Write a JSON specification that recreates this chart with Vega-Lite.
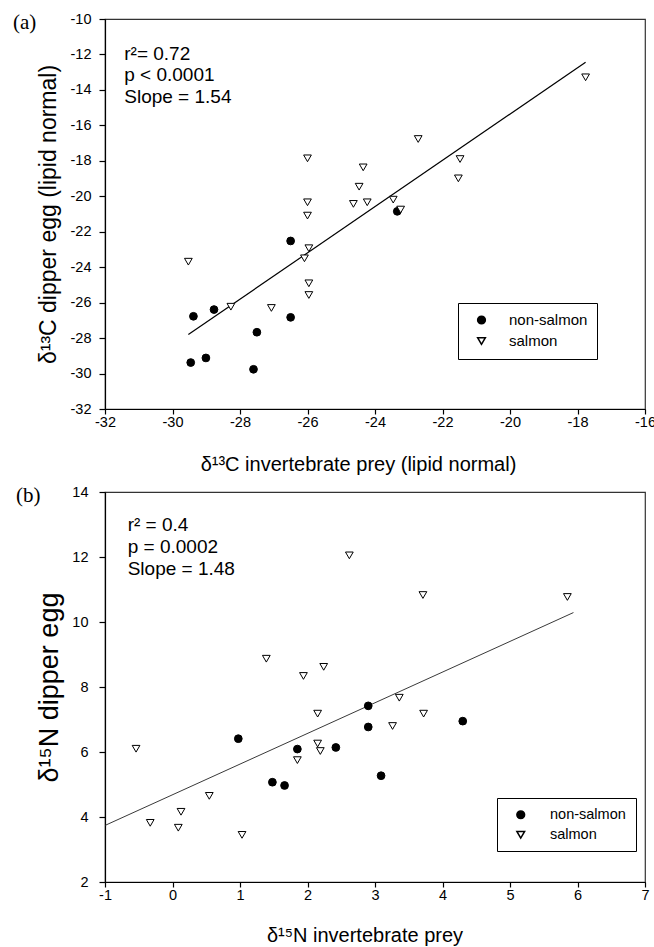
{
  "$schema": "https://vega.github.io/schema/vega-lite/v6.json",
  "background": "white",
  "padding": {"left": 12, "top": 10, "right": 0, "bottom": 0},
  "spacing": 7,
  "datasets": {
    "aPts": [
      {"prey": -29.38, "egg": -26.77, "group": "non-salmon"},
      {"prey": -28.77, "egg": -26.39, "group": "non-salmon"},
      {"prey": -29.46, "egg": -29.38, "group": "non-salmon"},
      {"prey": -29.01, "egg": -29.12, "group": "non-salmon"},
      {"prey": -27.50, "egg": -27.67, "group": "non-salmon"},
      {"prey": -27.60, "egg": -29.76, "group": "non-salmon"},
      {"prey": -26.50, "egg": -22.52, "group": "non-salmon"},
      {"prey": -26.50, "egg": -26.83, "group": "non-salmon"},
      {"prey": -23.34, "egg": -20.85, "group": "non-salmon"},
      {"prey": -29.53, "egg": -23.69, "group": "salmon"},
      {"prey": -28.27, "egg": -26.23, "group": "salmon"},
      {"prey": -27.07, "egg": -26.30, "group": "salmon"},
      {"prey": -26.00, "egg": -20.34, "group": "salmon"},
      {"prey": -26.00, "egg": -21.09, "group": "salmon"},
      {"prey": -25.96, "egg": -22.93, "group": "salmon"},
      {"prey": -26.09, "egg": -23.50, "group": "salmon"},
      {"prey": -25.96, "egg": -24.91, "group": "salmon"},
      {"prey": -25.96, "egg": -25.57, "group": "salmon"},
      {"prey": -24.64, "egg": -20.43, "group": "salmon"},
      {"prey": -26.00, "egg": -17.86, "group": "salmon"},
      {"prey": -24.47, "egg": -19.46, "group": "salmon"},
      {"prey": -24.35, "egg": -18.37, "group": "salmon"},
      {"prey": -24.23, "egg": -20.34, "group": "salmon"},
      {"prey": -23.46, "egg": -20.19, "group": "salmon"},
      {"prey": -23.24, "egg": -20.75, "group": "salmon"},
      {"prey": -22.72, "egg": -16.77, "group": "salmon"},
      {"prey": -21.48, "egg": -17.90, "group": "salmon"},
      {"prey": -21.53, "egg": -18.99, "group": "salmon"},
      {"prey": -17.76, "egg": -13.29, "group": "salmon"}
    ],
    "aLine": [
      {"prey": -29.53, "egg": -27.8},
      {"prey": -17.76, "egg": -12.44}
    ],
    "bPts": [
      {"prey": 0.975, "egg": 6.41, "group": "non-salmon"},
      {"prey": 1.48, "egg": 5.07, "group": "non-salmon"},
      {"prey": 1.66, "egg": 4.97, "group": "non-salmon"},
      {"prey": 1.85, "egg": 6.09, "group": "non-salmon"},
      {"prey": 2.42, "egg": 6.14, "group": "non-salmon"},
      {"prey": 2.90, "egg": 7.42, "group": "non-salmon"},
      {"prey": 2.90, "egg": 6.77, "group": "non-salmon"},
      {"prey": 3.09, "egg": 5.27, "group": "non-salmon"},
      {"prey": 4.30, "egg": 6.95, "group": "non-salmon"},
      {"prey": -0.54, "egg": 6.10, "group": "salmon"},
      {"prey": -0.33, "egg": 3.82, "group": "salmon"},
      {"prey": 0.086, "egg": 3.67, "group": "salmon"},
      {"prey": 0.126, "egg": 4.16, "group": "salmon"},
      {"prey": 0.545, "egg": 4.65, "group": "salmon"},
      {"prey": 1.03, "egg": 3.45, "group": "salmon"},
      {"prey": 1.85, "egg": 5.75, "group": "salmon"},
      {"prey": 2.15, "egg": 7.18, "group": "salmon"},
      {"prey": 2.15, "egg": 6.26, "group": "salmon"},
      {"prey": 2.19, "egg": 6.03, "group": "salmon"},
      {"prey": 1.39, "egg": 8.87, "group": "salmon"},
      {"prey": 1.94, "egg": 8.34, "group": "salmon"},
      {"prey": 2.24, "egg": 8.62, "group": "salmon"},
      {"prey": 2.62, "egg": 12.05, "group": "salmon"},
      {"prey": 3.71, "egg": 10.83, "group": "salmon"},
      {"prey": 5.85, "egg": 10.77, "group": "salmon"},
      {"prey": 3.36, "egg": 7.67, "group": "salmon"},
      {"prey": 3.72, "egg": 7.18, "group": "salmon"},
      {"prey": 3.26, "egg": 6.80, "group": "salmon"}
    ],
    "bLine": [
      {"prey": -1, "egg": 3.74},
      {"prey": 5.94, "egg": 10.29}
    ]
  },
  "vconcat": [
    {
      "title": {"text": "(a)", "orient": "top", "anchor": "start", "frame": "group", "dx": -92, "offset": -39, "baseline": "alphabetic", "font": "Liberation Serif", "fontSize": 21, "fontWeight": "normal", "color": "black"},
      "width": 540,
      "height": 390,
      "encoding": {
        "x": {"type": "quantitative", "scale": {"domain": [-32, -16], "nice": false, "zero": false},
          "axis": {"title": "δ¹³C invertebrate prey (lipid normal)", "values": [-32, -30, -28, -26, -24, -22, -20, -18, -16], "tickSize": 5, "labelPadding": 1, "titlePadding": 26, "titleX": 253}},
        "y": {"type": "quantitative", "scale": {"domain": [-32, -10], "nice": false, "zero": false},
          "axis": {"title": "δ¹³C dipper egg (lipid normal)", "titleFontSize": 23, "values": [-32, -30, -28, -26, -24, -22, -20, -18, -16, -14, -12, -10], "tickSize": 6, "labelPadding": 8, "titlePadding": 10}}
      },
      "layer": [
        {
          "data": {"name": "aLine"},
          "mark": {"type": "line", "color": "black", "strokeWidth": 1.2},
          "encoding": {"x": {"field": "prey", "type": "quantitative"}, "y": {"field": "egg", "type": "quantitative"}}
        },
        {
          "data": {"name": "aPts"},
          "mark": {"type": "point", "filled": true, "size": 60, "stroke": "black", "strokeWidth": 1, "opacity": 1},
          "encoding": {
            "x": {"field": "prey", "type": "quantitative"},
            "y": {"field": "egg", "type": "quantitative"},
            "shape": {"field": "group", "type": "nominal", "scale": {"domain": ["non-salmon", "salmon"], "range": ["circle", "triangle-down"]},
              "legend": {"title": null, "orient": "none", "legendX": 353, "legendY": 284, "strokeColor": "black", "fillColor": "white", "padding": 9.5, "symbolOffset": 6.5, "labelOffset": 20, "rowPadding": 5, "labelFontSize": 15, "labelFont": "Liberation Sans", "labelColor": "black", "symbolSize": 60,
                "encode": {"symbols": {"stroke": {"value": "black"}, "strokeWidth": {"value": 1}}}}},
            "color": {"field": "group", "type": "nominal", "scale": {"domain": ["non-salmon", "salmon"], "range": ["black", "white"]},
              "legend": {"title": null, "orient": "none", "legendX": 353, "legendY": 284, "strokeColor": "black", "fillColor": "white", "padding": 9.5, "symbolOffset": 6.5, "labelOffset": 20, "rowPadding": 5, "labelFontSize": 15, "labelFont": "Liberation Sans", "labelColor": "black", "symbolSize": 60,
                "encode": {"symbols": {"stroke": {"value": "black"}, "strokeWidth": {"value": 1}}}}}
          }
        },
        {
          "data": {"values": [{}]},
          "mark": {"type": "text", "align": "left", "baseline": "alphabetic", "font": "Liberation Sans", "fontSize": 19, "lineHeight": 21.7, "color": "black", "text": ["r²= 0.72", "p < 0.0001", "Slope = 1.54"]},
          "encoding": {"x": {"datum": -31.43}, "y": {"datum": -12.3}}
        }
      ]
    },
    {
      "title": {"text": "(b)", "orient": "top", "anchor": "start", "frame": "group", "dx": -89, "offset": -39, "baseline": "alphabetic", "font": "Liberation Serif", "fontSize": 21, "fontWeight": "normal", "color": "black"},
      "width": 540,
      "height": 390,
      "encoding": {
        "x": {"type": "quantitative", "scale": {"domain": [-1, 7], "nice": false, "zero": false},
          "axis": {"title": "δ¹⁵N invertebrate prey", "values": [-1, 0, 1, 2, 3, 4, 5, 6, 7], "tickSize": 5, "labelPadding": 1, "titlePadding": 24, "titleX": 259.5}},
        "y": {"type": "quantitative", "scale": {"domain": [2, 14], "nice": false, "zero": false},
          "axis": {"title": "δ¹⁵N dipper egg", "titleFontSize": 27, "values": [2, 4, 6, 8, 10, 12, 14], "tickSize": 6, "labelPadding": 11, "titlePadding": 8}}
      },
      "layer": [
        {
          "data": {"name": "bLine"},
          "mark": {"type": "line", "color": "#222", "strokeWidth": 0.9},
          "encoding": {"x": {"field": "prey", "type": "quantitative"}, "y": {"field": "egg", "type": "quantitative"}}
        },
        {
          "data": {"name": "bPts"},
          "mark": {"type": "point", "filled": true, "size": 60, "stroke": "black", "strokeWidth": 1, "opacity": 1},
          "encoding": {
            "x": {"field": "prey", "type": "quantitative"},
            "y": {"field": "egg", "type": "quantitative"},
            "shape": {"field": "group", "type": "nominal", "scale": {"domain": ["non-salmon", "salmon"], "range": ["circle", "triangle-down"]},
              "legend": {"title": null, "orient": "none", "legendX": 392, "legendY": 306, "strokeColor": "black", "fillColor": "white", "padding": 9.5, "symbolOffset": 7, "labelOffset": 22, "rowPadding": 4, "labelFontSize": 14.5, "labelFont": "Liberation Sans", "labelColor": "black", "symbolSize": 60,
                "encode": {"symbols": {"stroke": {"value": "black"}, "strokeWidth": {"value": 1}}}}},
            "color": {"field": "group", "type": "nominal", "scale": {"domain": ["non-salmon", "salmon"], "range": ["black", "white"]},
              "legend": {"title": null, "orient": "none", "legendX": 392, "legendY": 306, "strokeColor": "black", "fillColor": "white", "padding": 9.5, "symbolOffset": 7, "labelOffset": 22, "rowPadding": 4, "labelFontSize": 14.5, "labelFont": "Liberation Sans", "labelColor": "black", "symbolSize": 60,
                "encode": {"symbols": {"stroke": {"value": "black"}, "strokeWidth": {"value": 1}}}}}
          }
        },
        {
          "data": {"values": [{}]},
          "mark": {"type": "text", "align": "left", "baseline": "alphabetic", "font": "Liberation Sans", "fontSize": 19, "lineHeight": 22, "color": "black", "text": ["r² = 0.4", "p = 0.0002", "Slope = 1.48"]},
          "encoding": {"x": {"datum": -0.664}, "y": {"datum": 12.8}}
        }
      ]
    }
  ],
  "resolve": {"scale": {"shape": "independent", "color": "independent"}, "legend": {"shape": "independent", "color": "independent"}},
  "config": {
    "font": "Liberation Sans",
    "view": {"stroke": "#333", "strokeWidth": 1.2},
    "axis": {"grid": false, "domainColor": "black", "domainWidth": 1.2, "tickColor": "black", "tickWidth": 1.2, "labelColor": "black", "titleColor": "black", "labelFont": "Liberation Sans", "titleFont": "Liberation Sans", "labelFontSize": 14.5, "titleFontSize": 20, "titleFontWeight": "normal", "labelFlush": false, "labelOverlap": false},
    "locale": {"number": {"decimal": ".", "thousands": ",", "grouping": [3], "currency": ["$", ""], "minus": "-"}}
  }
}
